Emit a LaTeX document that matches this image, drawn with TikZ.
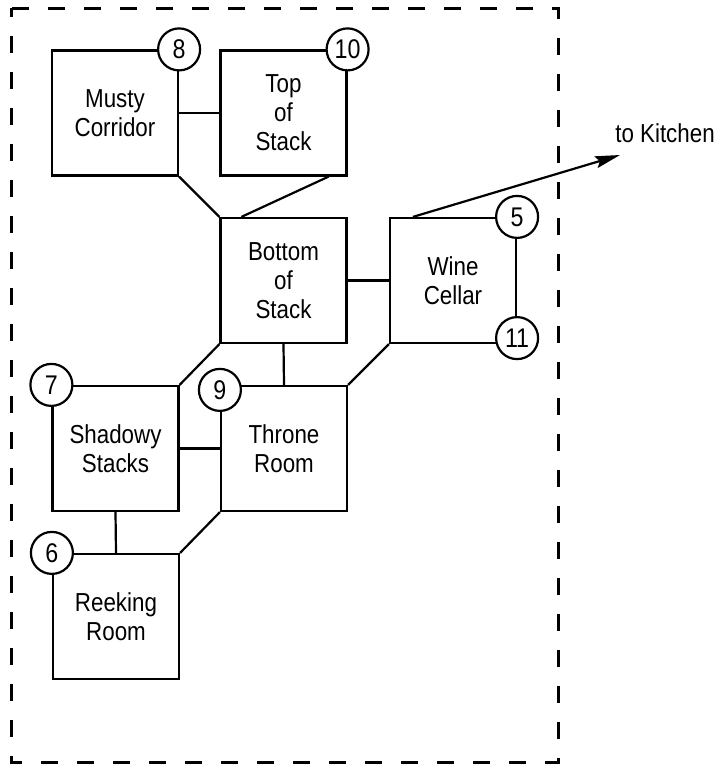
\documentclass[tikz,border=0pt]{standalone}
\usepackage{fontspec}
\setmainfont{Liberation Sans}[FakeStretch=0.86]
\usetikzlibrary{arrows.meta}
\begin{document}
\begin{tikzpicture}[x=1pt,y=-1pt,
  room/.style={draw, rectangle, line width=2.2pt, minimum width=126pt, minimum height=125pt,
    inner sep=0pt, align=center, font=\fontsize{26}{29}\selectfont},
  num/.style={draw, circle, fill=white, line width=2.2pt, minimum size=42pt, inner sep=0pt,
    font=\fontsize{27}{29}\selectfont},
  link/.style={line width=2.2pt},
  border/.style={line width=3pt, dash pattern=on 17pt off 19pt, dash phase=8pt},
  label/.style={font=\fontsize{26}{29}\selectfont, inner sep=0pt}]
\useasboundingbox (0,0) rectangle (722,766);
% dashed boundary
\draw[border] (11,8) rectangle (558,762);
% rooms
\node[room] (musty)   at (115,113)   {Musty\\Corridor};
\node[room] (top)     at (283.5,113) {Top\\of\\Stack};
\node[room] (bottom)  at (283.5,280.5) {Bottom\\of\\Stack};
\node[room] (wine)    at (453,280.5) {Wine\\Cellar};
\node[room] (shadowy) at (115.5,448.5) {Shadowy\\Stacks};
\node[room] (throne)  at (284,448.5) {Throne\\Room};
\node[room] (reeking) at (116,616.5) {Reeking\\Room};
% exit
\coordinate (kitchen) at (620,155);
\node[label] (kitchenlabel) at (665,133) {to Kitchen};
% connectors
\draw[link] (musty.east) -- (top.west);
\draw[link] (musty.south east) -- (bottom.north west);
\draw[link] ([xshift=-19pt]top.south east) -- ([xshift=22pt]bottom.north west);
\draw[link] (bottom.east) -- (wine.west);
\draw[link, -{Stealth[length=25pt,width=12pt,inset=4pt]}] ([xshift=24pt]wine.north west) -- (kitchen);
\draw[link] (bottom.south west) -- (shadowy.north east);
\draw[link] (bottom.south) -- (throne.north);
\draw[link] (wine.south west) -- (throne.north east);
\draw[link] (shadowy.east) -- (throne.west);
\draw[link] (shadowy.south) -- (reeking.north);
\draw[link] (throne.south west) -- (reeking.north east);
% numbered markers
\node[num] (n8)  at (musty.north east) {8};
\node[num] (n10) at (top.north east) {10};
\node[num] (n5)  at (wine.north east) {5};
\node[num] (n11) at ([yshift=6pt]wine.south east) {11};
\node[num] (n7)  at (shadowy.north west) {7};
\node[num] (n9)  at ([yshift=-5pt]throne.north west) {9};
\node[num] (n6)  at (reeking.north west) {6};
\end{tikzpicture}
\end{document}
